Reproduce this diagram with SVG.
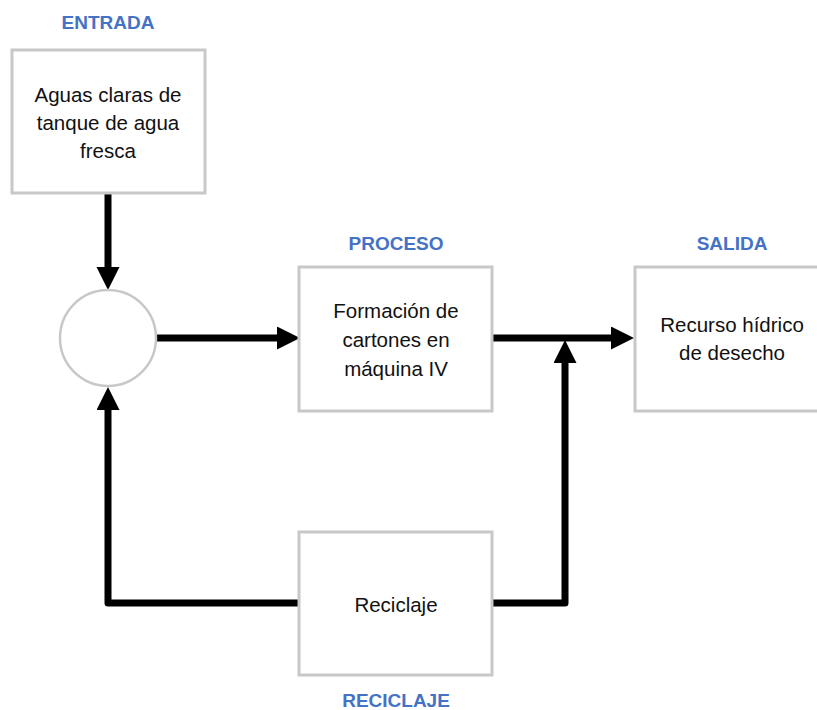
<svg xmlns="http://www.w3.org/2000/svg" width="817" height="710" viewBox="0 0 817 710">
  <style>
    .box { fill: #ffffff; stroke: #c8c8c8; stroke-width: 3; }
    .txt { font-family: "Liberation Sans", Arial, sans-serif; font-size: 20.5px; fill: #111111; text-anchor: middle; }
    .lbl { font-family: "Liberation Sans", Arial, sans-serif; font-size: 19px; font-weight: bold; fill: #4472c4; text-anchor: middle; }
    .flow { fill: none; stroke: #000000; stroke-width: 7; stroke-linecap: round; stroke-linejoin: round; }
  </style>
  <defs>
    <marker id="head" markerUnits="userSpaceOnUse" markerWidth="24" markerHeight="24" refX="3" refY="11.5" orient="auto">
      <path d="M0,0 L23,11.5 L0,23 Z" fill="#000000"/>
    </marker>
  </defs>

  <rect width="817" height="710" fill="#ffffff"/>

  <!-- connectors -->
  <g id="connectors">
    <path class="flow" d="M108,193 L108,270" marker-end="url(#head)"/>
    <path class="flow" d="M157,338 L280,338" marker-end="url(#head)"/>
    <path class="flow" d="M492,338 L614,338" marker-end="url(#head)"/>
    <path class="flow" d="M300,603 L108,603 L108,407" marker-end="url(#head)"/>
    <path class="flow" d="M492,603 L565,603 L565,360" marker-end="url(#head)"/>
  </g>

  <g id="entrada">
    <text class="lbl" x="108" y="29">ENTRADA</text>
    <rect class="box" x="12" y="50" width="193" height="143"/>
    <text class="txt" x="108" y="102">Aguas claras de</text>
    <text class="txt" x="108" y="130">tanque de agua</text>
    <text class="txt" x="108" y="158">fresca</text>
  </g>

  <g id="mezcla">
    <circle cx="108" cy="338" r="48" fill="#ffffff" stroke="#c8c8c8" stroke-width="2.5"/>
  </g>

  <g id="proceso">
    <text class="lbl" x="396" y="250">PROCESO</text>
    <rect class="box" x="299" y="267" width="193" height="144"/>
    <text class="txt" x="396" y="318">Formación de</text>
    <text class="txt" x="396" y="347">cartones en</text>
    <text class="txt" x="396" y="376">máquina IV</text>
  </g>

  <g id="salida">
    <text class="lbl" x="732" y="250">SALIDA</text>
    <rect class="box" x="635" y="267" width="193" height="144"/>
    <text class="txt" x="732" y="332">Recurso hídrico</text>
    <text class="txt" x="732" y="360">de desecho</text>
  </g>

  <g id="reciclaje">
    <rect class="box" x="299" y="532" width="193" height="143"/>
    <text class="txt" x="396" y="612">Reciclaje</text>
    <text class="lbl" x="396" y="707">RECICLAJE</text>
  </g>
</svg>
